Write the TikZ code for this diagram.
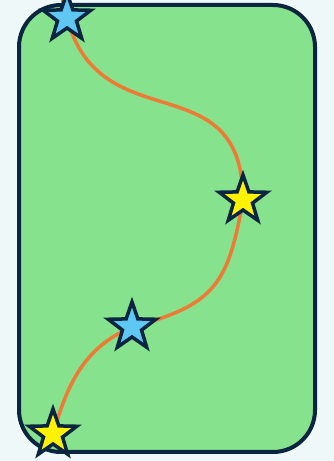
\documentclass[tikz,border=0pt]{standalone}
\usetikzlibrary{shapes.geometric,backgrounds}
\definecolor{paper}{HTML}{EEF8F8}
\definecolor{lawn}{HTML}{86E28C}
\definecolor{ink}{HTML}{0A2540}
\definecolor{sky}{HTML}{5EC8F2}
\definecolor{trailcol}{HTML}{EE7A35}
\tikzset{
  starnode/.style={star,star points=5,star point ratio=2.5,minimum size=50pt,
    inner sep=0pt,draw=ink,line width=3.5pt},
  bluestar/.style={starnode,fill=sky},
  yellowstar/.style={starnode,fill=yellow},
  trail/.style={draw=trailcol,line width=3.5pt},
}
\begin{document}
\begin{tikzpicture}[x=1pt,y=1pt,line cap=round]
\useasboundingbox (0,0) rectangle (334,461);
% stars
\node[bluestar] (s1) at (67,443) {};
\node[yellowstar] (s2) at (243,261) {};
\node[bluestar] (s3) at (132,134) {};
\node[yellowstar] (s4) at (53,27) {};
\coordinate (top) at (59,475);
% field and path, behind the stars
\begin{pgfonlayer}{background}
\fill[paper] (0,0) rectangle (334,461);
\draw[fill=lawn,draw=ink,line width=4pt,rounded corners=42pt] (19,9) rectangle (315,456);
\draw[trail] (top) -- (s1.center)
  to[out=-75,in=90,out looseness=1.3,in looseness=1.4] (s2.center)
  to[out=-100,in=15,looseness=1.3] (s3.center)
  to[out=-157,in=74] (s4.center);
\end{pgfonlayer}
\end{tikzpicture}
\end{document}
